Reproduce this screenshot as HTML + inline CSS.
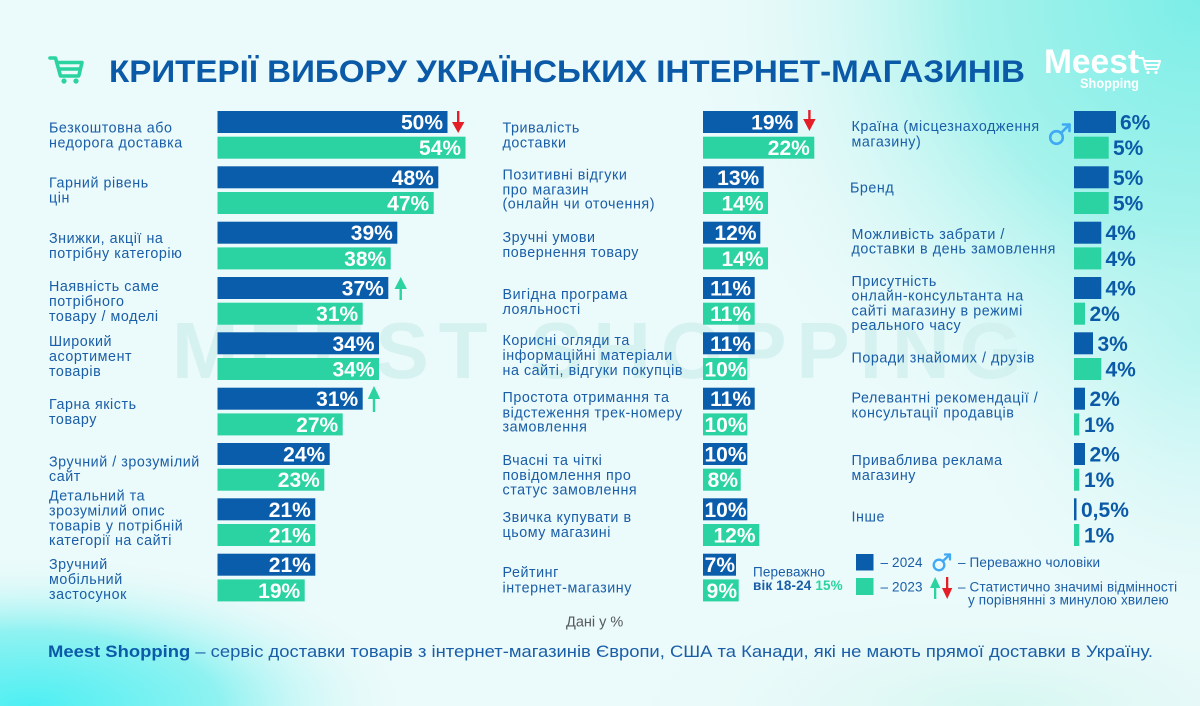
<!DOCTYPE html>
<html><head><meta charset="utf-8"><style>
html,body{margin:0;padding:0;width:1200px;height:706px;overflow:hidden;background:#ebfafa}
svg{display:block}
.lb{font-family:"Liberation Sans","DejaVu Sans",sans-serif;font-size:14.3px;letter-spacing:0.55px;fill:#1a5ea8}
.pw{font-family:"Liberation Sans","DejaVu Sans",sans-serif;font-size:21px;font-weight:bold;fill:#fff;text-anchor:end}
.pb{font-family:"Liberation Sans","DejaVu Sans",sans-serif;font-size:21px;font-weight:bold;fill:#0b5aa8}
.lg{font-family:"Liberation Sans","DejaVu Sans",sans-serif;font-size:13.5px;letter-spacing:0.15px;fill:#1a5ea8}
</style></head><body>
<svg width="1200" height="706" viewBox="0 0 1200 706" xmlns="http://www.w3.org/2000/svg">
<defs>
<radialGradient id="gTR" cx="1200" cy="0" r="520" gradientUnits="userSpaceOnUse">
<stop offset="0" stop-color="#7ceee7"/><stop offset="0.45" stop-color="#a6f2ec"/><stop offset="1" stop-color="#ebfafa" stop-opacity="0"/>
</radialGradient>
<radialGradient id="gBL" cx="0" cy="0" r="1" gradientUnits="userSpaceOnUse" gradientTransform="translate(30 706) scale(380 150)">
<stop offset="0" stop-color="#4eeff3"/><stop offset="0.5" stop-color="#8ff2f1"/><stop offset="1" stop-color="#ebfafa" stop-opacity="0"/>
</radialGradient>
<radialGradient id="gR" cx="0" cy="0" r="1" gradientUnits="userSpaceOnUse" gradientTransform="translate(1200 330) scale(260 320)">
<stop offset="0" stop-color="#a8f3ee"/><stop offset="1" stop-color="#ebfafa" stop-opacity="0"/>
</radialGradient>
<radialGradient id="gBR" cx="0" cy="0" r="1" gradientUnits="userSpaceOnUse" gradientTransform="translate(1000 706) scale(400 120)">
<stop offset="0" stop-color="#d6f7f1"/><stop offset="1" stop-color="#ebfafa" stop-opacity="0"/>
</radialGradient>
</defs>
<rect width="1200" height="706" fill="#ebfafa"/>
<rect width="1200" height="706" fill="url(#gR)"/>
<rect width="1200" height="706" fill="url(#gTR)"/>
<rect width="1200" height="706" fill="url(#gBR)"/>
<rect width="1200" height="706" fill="url(#gBL)"/>

<!-- watermark -->
<text x="172" y="378" font-family="Liberation Sans, sans-serif" font-weight="bold" font-size="80" fill="#cfefec" fill-opacity="0.75" textLength="850" lengthAdjust="spacing">MEEST SHOPPING</text>

<!-- title cart icon -->
<g fill="none" stroke="#2bd3a0" stroke-width="3.6" stroke-linecap="round" stroke-linejoin="round">
<path d="M50 58 H55.5 L60.5 76 H78.5"/>
<path d="M58 62.5 H82 L79 75"/>
<path d="M60 69 H80"/>
</g>
<circle cx="64" cy="81" r="2.6" fill="#2bd3a0"/><circle cx="76" cy="81" r="2.6" fill="#2bd3a0"/>

<!-- title -->
<text x="109" y="82" font-family="Liberation Sans, sans-serif" font-weight="bold" font-size="31.5" fill="#0b5aa8" textLength="916" lengthAdjust="spacingAndGlyphs">КРИТЕРІЇ ВИБОРУ УКРАЇНСЬКИХ ІНТЕРНЕТ-МАГАЗИНІВ</text>

<!-- logo -->
<text x="1044" y="73" font-family="Liberation Sans, sans-serif" font-weight="bold" font-size="34" fill="#fff" textLength="95" lengthAdjust="spacingAndGlyphs">Meest</text>
<g fill="none" stroke="#fff" stroke-width="2" stroke-linecap="round" stroke-linejoin="round">
<path d="M1139 58 H1143 L1146 69 H1157"/><path d="M1144 61 H1160 L1158 68"/><path d="M1145 65 H1158"/>
</g>
<circle cx="1148" cy="72.5" r="1.5" fill="#fff"/><circle cx="1156" cy="72.5" r="1.5" fill="#fff"/>
<text x="1080" y="88" font-family="Liberation Sans, sans-serif" font-weight="bold" font-size="13.5" fill="#fff" textLength="59" lengthAdjust="spacingAndGlyphs">Shopping</text>

<!-- ============ LEFT COLUMN ============ -->
<g>
<rect x="217.5" y="111" width="230" height="22" fill="#0a5dab"/>
<rect x="217.5" y="136.7" width="248" height="22" fill="#2ad3a1"/>
<text class="pw" x="443" y="129.5">50%</text><text class="pw" x="461" y="155.2">54%</text>

<rect x="217.5" y="166.3" width="220.8" height="22" fill="#0a5dab"/>
<rect x="217.5" y="192" width="216.2" height="22" fill="#2ad3a1"/>
<text class="pw" x="433.8" y="184.8">48%</text><text class="pw" x="429.2" y="210.5">47%</text>

<rect x="217.5" y="221.7" width="179.8" height="22" fill="#0a5dab"/>
<rect x="217.5" y="247.4" width="173.2" height="22" fill="#2ad3a1"/>
<text class="pw" x="392.8" y="240.2">39%</text><text class="pw" x="386.2" y="265.9">38%</text>

<rect x="217.5" y="277" width="170.8" height="22" fill="#0a5dab"/>
<rect x="217.5" y="302.7" width="145.2" height="22" fill="#2ad3a1"/>
<text class="pw" x="383.8" y="295.5">37%</text><text class="pw" x="358.2" y="321.2">31%</text>

<rect x="217.5" y="332.3" width="161.5" height="22" fill="#0a5dab"/>
<rect x="217.5" y="358" width="161.5" height="22" fill="#2ad3a1"/>
<text class="pw" x="374.5" y="350.8">34%</text><text class="pw" x="374.5" y="376.5">34%</text>

<rect x="217.5" y="387.7" width="145.2" height="22" fill="#0a5dab"/>
<rect x="217.5" y="413.4" width="125.2" height="22" fill="#2ad3a1"/>
<text class="pw" x="358.2" y="406.2">31%</text><text class="pw" x="338.2" y="431.9">27%</text>

<rect x="217.5" y="443" width="112.2" height="22" fill="#0a5dab"/>
<rect x="217.5" y="468.7" width="106.8" height="22" fill="#2ad3a1"/>
<text class="pw" x="325.2" y="461.5">24%</text><text class="pw" x="319.8" y="487.2">23%</text>

<rect x="217.5" y="498.3" width="97.8" height="22" fill="#0a5dab"/>
<rect x="217.5" y="524" width="97.8" height="22" fill="#2ad3a1"/>
<text class="pw" x="310.8" y="516.8">21%</text><text class="pw" x="310.8" y="542.5">21%</text>

<rect x="217.5" y="553.7" width="97.8" height="22" fill="#0a5dab"/>
<rect x="217.5" y="579.4" width="87.2" height="22" fill="#2ad3a1"/>
<text class="pw" x="310.8" y="572.2">21%</text><text class="pw" x="300.2" y="597.9">19%</text>
</g>

<g class="lb">
<text x="49" y="132.3">Безкоштовна або</text><text x="49" y="147.3">недорога доставка</text>
<text x="49" y="187.6">Гарний рівень</text><text x="49" y="202.6">цін</text>
<text x="49" y="243">Знижки, акції на</text><text x="49" y="258">потрібну категорію</text>
<text x="49" y="290.8">Наявність саме</text><text x="49" y="305.8">потрібного</text><text x="49" y="320.8">товару / моделі</text>
<text x="49" y="346.1">Широкий</text><text x="49" y="361.1">асортимент</text><text x="49" y="376.1">товарів</text>
<text x="49" y="409">Гарна якість</text><text x="49" y="424">товару</text>
<text x="49" y="466.5">Зручний / зрозумілий</text><text x="49" y="481">сайт</text>
<text x="49" y="500.7">Детальний та</text><text x="49" y="515.5">зрозумілий опис</text><text x="49" y="530.5">товарів у потрібній</text><text x="49" y="545">категорії на сайті</text>
<text x="49" y="569">Зручний</text><text x="49" y="584">мобільний</text><text x="49" y="599">застосунок</text>
</g>

<!-- arrows left -->
<g>
<rect x="457" y="111" width="2.4" height="14" fill="#e41e26"/><path d="M452 122 L464.4 122 L458.2 133 Z" fill="#e41e26"/>
<rect x="399.5" y="287" width="2.4" height="13" fill="#2bd3a0"/><path d="M394.5 289 L406.9 289 L400.7 277 Z" fill="#2bd3a0"/>
<rect x="372.8" y="397" width="2.4" height="15" fill="#2bd3a0"/><path d="M367.8 399 L380.2 399 L374 386 Z" fill="#2bd3a0"/>
</g>

<!-- ============ MIDDLE COLUMN ============ -->
<g>
<rect x="703" y="111" width="94.7" height="22" fill="#0a5dab"/>
<rect x="703" y="136.7" width="111.3" height="22" fill="#2ad3a1"/>
<text class="pw" x="793.2" y="129.5">19%</text><text class="pw" x="809.8" y="155.2">22%</text>

<rect x="703" y="166.3" width="60.7" height="22" fill="#0a5dab"/>
<rect x="703" y="192" width="65" height="22" fill="#2ad3a1"/>
<text class="pw" x="759.2" y="184.8">13%</text><text class="pw" x="763.5" y="210.5">14%</text>

<rect x="703" y="221.7" width="57.3" height="22" fill="#0a5dab"/>
<rect x="703" y="247.4" width="65" height="22" fill="#2ad3a1"/>
<text class="pw" x="756.5" y="240.2">12%</text><text class="pw" x="763.5" y="265.9">14%</text>

<rect x="703" y="277" width="51.7" height="22" fill="#0a5dab"/>
<rect x="703" y="302.7" width="51.7" height="22" fill="#2ad3a1"/>
<text class="pw" x="751" y="295.5">11%</text><text class="pw" x="751" y="321.2">11%</text>

<rect x="703" y="332.3" width="51.7" height="22" fill="#0a5dab"/>
<rect x="703" y="358" width="44.3" height="22" fill="#2ad3a1"/>
<text class="pw" x="751" y="350.8">11%</text><text class="pw" x="746.5" y="376.5">10%</text>

<rect x="703" y="387.7" width="51.7" height="22" fill="#0a5dab"/>
<rect x="703" y="413.4" width="44.3" height="22" fill="#2ad3a1"/>
<text class="pw" x="751" y="406.2">11%</text><text class="pw" x="746.5" y="431.9">10%</text>

<rect x="703" y="443" width="44.3" height="22" fill="#0a5dab"/>
<rect x="703" y="468.7" width="37.7" height="22" fill="#2ad3a1"/>
<text class="pw" x="746.5" y="461.5">10%</text><text class="pw" x="738" y="487.2">8%</text>

<rect x="703" y="498.3" width="44.3" height="22" fill="#0a5dab"/>
<rect x="703" y="524" width="56.3" height="22" fill="#2ad3a1"/>
<text class="pw" x="746.5" y="516.8">10%</text><text class="pw" x="755.5" y="542.5">12%</text>

<rect x="703" y="553.7" width="33" height="22" fill="#0a5dab"/>
<rect x="703" y="579.4" width="35.7" height="22" fill="#2ad3a1"/>
<text class="pw" x="735" y="572.2">7%</text><text class="pw" x="737" y="597.9">9%</text>
</g>

<g class="lb">
<text x="502.5" y="132.3">Тривалість</text><text x="502.5" y="147.3">доставки</text>
<text x="502.5" y="179.5">Позитивні відгуки</text><text x="502.5" y="194.3">про магазин</text><text x="502.5" y="208.5">(онлайн чи оточення)</text>
<text x="502.5" y="242">Зручні умови</text><text x="502.5" y="257">повернення товару</text>
<text x="502.5" y="299">Вигідна програма</text><text x="502.5" y="314">лояльності</text>
<text x="502.5" y="345">Корисні огляди та</text><text x="502.5" y="360">інформаційні матеріали</text><text x="502.5" y="375">на сайті, відгуки покупців</text>
<text x="502.5" y="402">Простота отримання та</text><text x="502.5" y="417.5">відстеження трек-номеру</text><text x="502.5" y="431.5">замовлення</text>
<text x="502.5" y="465">Вчасні та чіткі</text><text x="502.5" y="480">повідомлення про</text><text x="502.5" y="494.5">статус замовлення</text>
<text x="502.5" y="522">Звичка купувати в</text><text x="502.5" y="537">цьому магазині</text>
<text x="502.5" y="577">Рейтинг</text><text x="502.5" y="592.5">інтернет-магазину</text>
</g>

<rect x="808.2" y="110" width="2.4" height="12" fill="#e41e26"/><path d="M803.2 119 L815.6 119 L809.4 131 Z" fill="#e41e26"/>

<text class="lg" x="753" y="576.5">Переважно</text>
<text class="lg" x="753" y="590" font-weight="bold" fill="#0b5aa8">вік 18-24 <tspan fill="#2ad3a1">15%</tspan></text>

<!-- ============ RIGHT COLUMN ============ -->
<g>
<rect x="1074" y="111" width="42" height="22" fill="#0a5dab"/>
<rect x="1074" y="136.7" width="34.7" height="22" fill="#2ad3a1"/>
<text class="pb" x="1120" y="129.5">6%</text><text class="pb" x="1113" y="155.2">5%</text>

<rect x="1074" y="166.3" width="34.7" height="22" fill="#0a5dab"/>
<rect x="1074" y="192" width="34.7" height="22" fill="#2ad3a1"/>
<text class="pb" x="1113" y="184.8">5%</text><text class="pb" x="1113" y="210.5">5%</text>

<rect x="1074" y="221.7" width="27.3" height="22" fill="#0a5dab"/>
<rect x="1074" y="247.4" width="27.3" height="22" fill="#2ad3a1"/>
<text class="pb" x="1105.5" y="240.2">4%</text><text class="pb" x="1105.5" y="265.9">4%</text>

<rect x="1074" y="277" width="27.3" height="22" fill="#0a5dab"/>
<rect x="1074" y="302.7" width="11" height="22" fill="#2ad3a1"/>
<text class="pb" x="1105.5" y="295.5">4%</text><text class="pb" x="1089.5" y="321.2">2%</text>

<rect x="1074" y="332.3" width="19" height="22" fill="#0a5dab"/>
<rect x="1074" y="358" width="27.3" height="22" fill="#2ad3a1"/>
<text class="pb" x="1097.5" y="350.8">3%</text><text class="pb" x="1105.5" y="376.5">4%</text>

<rect x="1074" y="387.7" width="11" height="22" fill="#0a5dab"/>
<rect x="1074" y="413.4" width="5.3" height="22" fill="#2ad3a1"/>
<text class="pb" x="1089.5" y="406.2">2%</text><text class="pb" x="1084" y="431.9">1%</text>

<rect x="1074" y="443" width="11" height="22" fill="#0a5dab"/>
<rect x="1074" y="468.7" width="5.3" height="22" fill="#2ad3a1"/>
<text class="pb" x="1089.5" y="461.5">2%</text><text class="pb" x="1084" y="487.2">1%</text>

<rect x="1074" y="498.3" width="2.5" height="22" fill="#0a5dab"/>
<rect x="1074" y="524" width="5.3" height="22" fill="#2ad3a1"/>
<text class="pb" x="1081" y="516.8">0,5%</text><text class="pb" x="1084" y="542.5">1%</text>
</g>

<g class="lb">
<text x="851.5" y="131">Країна (місцезнаходження</text><text x="851.5" y="146.5">магазину)</text>
<text x="850" y="192.5">Бренд</text>
<text x="851.5" y="239">Можливість забрати /</text><text x="851.5" y="253.5">доставки в день замовлення</text>
<text x="851.5" y="286">Присутність</text><text x="851.5" y="300.5">онлайн-консультанта на</text><text x="851.5" y="315.5">сайті магазину в режимі</text><text x="851.5" y="330">реального часу</text>
<text x="851.5" y="362.5">Поради знайомих / друзів</text>
<text x="851.5" y="402.5">Релевантні рекомендації /</text><text x="851.5" y="417.5">консультації продавців</text>
<text x="851.5" y="465">Приваблива реклама</text><text x="851.5" y="480">магазину</text>
<text x="851.5" y="521.5">Інше</text>
</g>

<!-- male symbol right column -->
<g fill="none" stroke="#3fa9f5" stroke-width="2.6" stroke-linecap="round" stroke-linejoin="round">
<circle cx="1056.5" cy="137.5" r="6.3"/>
<path d="M1061 133 L1069.5 124.5"/><path d="M1063 124.5 H1069.5 V131"/>
</g>

<!-- legend -->
<rect x="856" y="554" width="17.5" height="16.5" fill="#0a5dab"/>
<rect x="856" y="578" width="17.5" height="17" fill="#2ad3a1"/>
<text class="lg" x="880.5" y="567">– 2024</text>
<text class="lg" x="880.5" y="591.5">– 2023</text>
<g fill="none" stroke="#3fa9f5" stroke-width="2.3" stroke-linecap="round" stroke-linejoin="round">
<circle cx="939" cy="565" r="5.3"/>
<path d="M943 561 L950 554.5"/><path d="M945 554.5 H950 V559.5"/>
</g>
<text class="lg" x="958" y="567">– Переважно чоловіки</text>
<rect x="934" y="586" width="2.3" height="13" fill="#2bd3a0"/><path d="M930 588 L940.3 588 L935.2 577 Z" fill="#2bd3a0"/>
<rect x="946" y="577" width="2.3" height="13" fill="#e41e26"/><path d="M942 588 L952.3 588 L947.2 599 Z" fill="#e41e26"/>
<text class="lg" x="958" y="591.5">– Статистично значимі відмінності</text>
<text class="lg" x="968" y="604.5">у порівнянні з минулою хвилею</text>

<!-- data note -->
<text x="566" y="626.5" font-family="Liberation Sans, sans-serif" font-size="14.5" fill="#555a60">Дані у %</text>

<!-- footer -->
<text x="48" y="657" font-family="Liberation Sans, sans-serif" font-size="16.8" fill="#1a5ea8" textLength="1105" lengthAdjust="spacingAndGlyphs"><tspan font-weight="bold" fill="#0b5aa8">Meest Shopping</tspan> – сервіс доставки товарів з інтернет-магазинів Європи, США та Канади, які не мають прямої доставки в Україну.</text>
</svg>
</body></html>
